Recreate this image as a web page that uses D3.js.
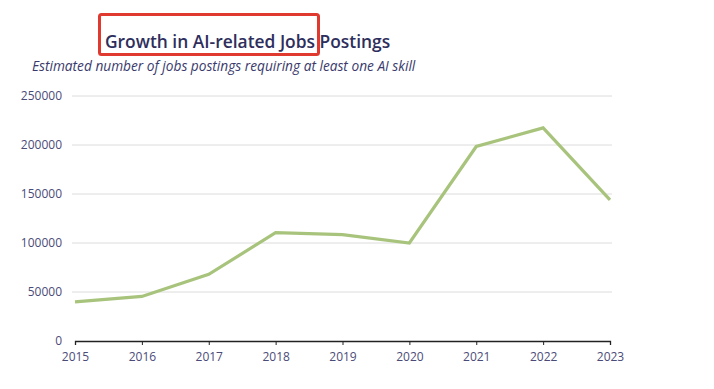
<!DOCTYPE html>
<html>
<head>
<meta charset="utf-8">
<script src="https://cdn.jsdelivr.net/npm/d3@7"></script>
<style>
  body { margin: 0; background: #fff; }
  svg { display: block; }
</style>
</head>
<body>
<svg id="chart" width="714" height="389"></svg>
<script>
const years = [2015, 2016, 2017, 2018, 2019, 2020, 2021, 2022, 2023];
const postings = [40000, 45500, 68000, 110500, 108500, 100000, 198500, 217500, 144000];
const yTicks = [0, 50000, 100000, 150000, 200000, 250000];

const svg = d3.select("#chart");
const font = "'Open Sans', 'Noto Sans', sans-serif";
const x = d3.scaleLinear().domain([2015, 2023]).range([75, 610]);
const y = d3.scaleLinear().domain([0, 250000]).range([341, 96]);

// gridlines
svg.append("g").selectAll("line").data(yTicks.filter(d => d > 0)).join("line")
  .attr("x1", 72).attr("x2", 612)
  .attr("y1", d => y(d)).attr("y2", d => y(d))
  .attr("stroke", "#dcdcdc").attr("stroke-width", 1);

// y labels
svg.append("g").selectAll("text").data(yTicks).join("text")
  .attr("x", 62).attr("y", d => y(d)).attr("dy", "0.35em")
  .attr("text-anchor", "end")
  .attr("font-family", font).attr("font-size", 12)
  .attr("fill", "#4b4b78")
  .text(d => d);

// x axis
const xAxis = d3.axisBottom(x).tickValues(years).tickFormat(d3.format("d")).tickSize(4).tickSizeOuter(4);
const gx = svg.append("g").attr("transform", "translate(0,341)").call(xAxis);
gx.select(".domain").attr("stroke", "#222").attr("stroke-width", 1.3);
gx.selectAll(".tick line").attr("stroke", "#222");
gx.selectAll(".tick text").attr("font-family", font).attr("font-size", 12)
  .attr("fill", "#4b4b78").attr("dy", "1.05em");

// line
const line = d3.line().x((d, i) => x(years[i])).y(d => y(d));
svg.append("path").datum(postings)
  .attr("d", line)
  .attr("fill", "none")
  .attr("stroke", "#a8c47c")
  .attr("stroke-width", 3.2)
  .attr("stroke-linejoin", "miter");

// title
svg.append("text").attr("x", 105).attr("y", 48)
  .attr("font-family", font).attr("font-size", 17.4).attr("font-weight", 600)
  .attr("fill", "#2e2e5c")
  .text("Growth in AI-related Jobs Postings");

svg.append("rect").attr("x", 99.5).attr("y", 14.5).attr("width", 219).attr("height", 40)
  .attr("rx", 2).attr("fill", "none").attr("stroke", "#e03a30").attr("stroke-width", 3);

svg.append("text").attr("x", 32).attr("y", 71)
  .attr("font-family", font).attr("font-size", 13.7).attr("font-style", "italic")
  .attr("fill", "#3a3a6c")
  .text("Estimated number of jobs postings requiring at least one AI skill");
</script>
</body>
</html>
